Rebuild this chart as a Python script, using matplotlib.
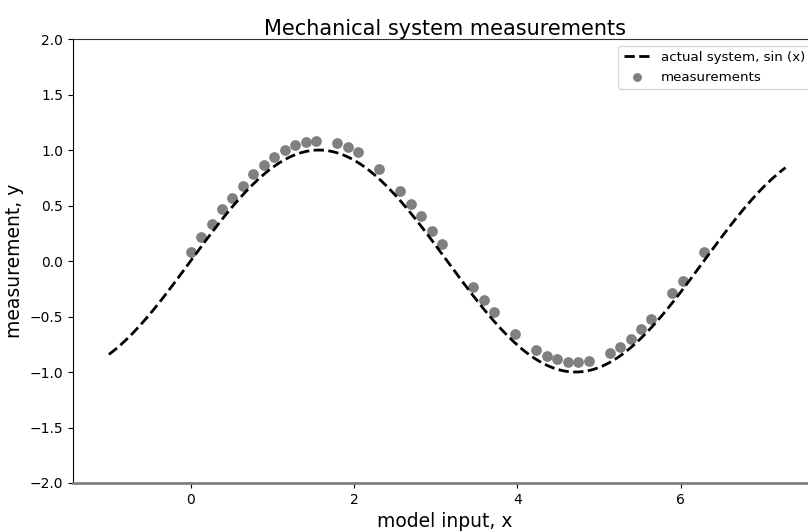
import numpy as np
import matplotlib
matplotlib.use("Agg")
import matplotlib.pyplot as plt

# measurement sample indices on a 50-point grid over [0, 2*pi]
idx = [0, 1, 2, 3, 4, 5, 6, 7, 8, 9, 10, 11, 12, 14, 15, 16, 18, 20, 21, 22,
       23, 24, 27, 28, 29, 31, 33, 34, 35, 36, 37, 38, 40, 41, 42, 43, 44, 46,
       47, 49]
y_meas = [0.081, 0.213, 0.333, 0.465, 0.570, 0.676, 0.784, 0.865, 0.940, 1.000,
          1.045, 1.069, 1.084, 1.060, 1.030, 0.979, 0.826, 0.631, 0.514, 0.408,
          0.273, 0.150, -0.232, -0.351, -0.462, -0.658, -0.802, -0.856, -0.886,
          -0.906, -0.906, -0.901, -0.832, -0.778, -0.700, -0.613, -0.520, -0.291,
          -0.177, 0.079]

grid = np.linspace(0, 2 * np.pi, 50)
x_meas = grid[idx]

x_line = np.linspace(-1, 2 * np.pi + 1, 200)
y_line = np.sin(x_line)

fig = plt.figure(figsize=(8.08, 5.31), dpi=100)
ax = fig.add_axes([0.0903, 0.0904, 0.921, 0.836])

ax.plot(x_line, y_line, 'k--', lw=2, label='actual system, sin (x)')
ax.scatter(x_meas, y_meas, color='gray', s=45, label='measurements')

ax.set_ylim(-2, 2)
ax.set_xlim(-1.44, 7.67)
ax.set_xticks([0, 2, 4, 6])

ax.spines['bottom'].set_color('gray')
ax.spines['bottom'].set_linewidth(2)
ax.spines['top'].set_color('#333333')

ax.set_title('Mechanical system measurements', fontsize=15, pad=3)
ax.set_xlabel('model input, x', fontsize=13.5)
ax.set_ylabel('measurement, y', fontsize=13.5)
ax.legend(loc='upper right', fontsize=9.6, markerscale=0.8)

fig.savefig('out.png', dpi=100)
